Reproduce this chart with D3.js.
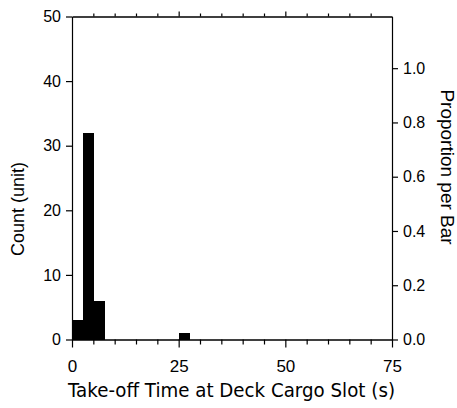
<!DOCTYPE html>
<html><head><meta charset="utf-8">
<script src="https://cdn.jsdelivr.net/npm/d3@7"></script>
<style>body{margin:0;background:#fff}svg{display:block}</style>
</head><body><svg width="457" height="408"></svg>
<script>
const binStart = [0, 2.5, 5, 25];
const binEnd = [2.5, 5, 7.5, 27.5];
const counts = [3, 32, 6, 1];
const xMajorTicks = [0, 25, 50, 75];
const xMinorTicks = [5, 10, 15, 20, 30, 35, 40, 45, 55, 60, 65, 70];
const countTicks = [0, 10, 20, 30, 40, 50];
const propTicks = [0, 0.2, 0.4, 0.6, 0.8, 1.0];

const svg = d3.select("svg");
const L = 72, R = 392, T = 16.5, B = 339.5;
const x = d3.scaleLinear().domain([0, 75]).range([L, R]);
const y = d3.scaleLinear().domain([0, 50]).range([B, T]);
const total = d3.sum(counts);
const yp = d3.scaleLinear().domain([0, 50 / total]).range([B, T]);

const font = "Liberation Sans, Arial, sans-serif";
const jfont = "DejaVu Sans, sans-serif";

// bars
svg.append("g").selectAll("rect").data(counts).join("rect")
  .attr("x", (d, i) => x(binStart[i]))
  .attr("width", (d, i) => x(binEnd[i]) - x(binStart[i]) + 0.6)
  .attr("y", d => y(d))
  .attr("height", d => B - y(d))
  .attr("fill", "#000")
  .attr("shape-rendering", "crispEdges");

function styleAxis(g) {
  g.selectAll("path,line").attr("stroke", "#000").attr("stroke-width", 1.2);
}

// bottom axis
svg.append("g").attr("transform", `translate(0,${B})`)
  .call(d3.axisBottom(x).tickValues(xMinorTicks).tickSize(5).tickSizeOuter(0).tickFormat(""))
  .call(styleAxis);
const bx = svg.append("g").attr("transform", `translate(0,${B})`)
  .call(d3.axisBottom(x).tickValues(xMajorTicks).tickSize(8).tickSizeOuter(0).tickPadding(12))
  .call(styleAxis);
bx.selectAll("text").attr("font-family", font).attr("font-size", 17).attr("fill", "#000");

// top axis
svg.append("g").attr("transform", `translate(0,${T})`)
  .call(d3.axisTop(x).tickValues(xMinorTicks).tickSize(3).tickSizeOuter(0).tickFormat(""))
  .call(styleAxis);
svg.append("g").attr("transform", `translate(0,${T})`)
  .call(d3.axisTop(x).tickValues([25, 50]).tickSize(5).tickSizeOuter(0).tickFormat(""))
  .call(styleAxis);

// left axis
const ly = svg.append("g").attr("transform", `translate(${L},0)`)
  .call(d3.axisLeft(y).tickValues(countTicks).tickSize(6).tickSizeOuter(0).tickPadding(5))
  .call(styleAxis);
ly.selectAll("text").attr("font-family", font).attr("font-size", 16).attr("fill", "#000");

// right axis
const ry = svg.append("g").attr("transform", `translate(${R},0)`)
  .call(d3.axisRight(yp).tickValues(propTicks).tickSize(6).tickSizeOuter(0).tickPadding(5).tickFormat(d3.format(".1f")))
  .call(styleAxis);
ry.selectAll("text").attr("font-family", font).attr("font-size", 16).attr("fill", "#000");

// titles
svg.append("text").attr("x", 231.5).attr("y", 397)
  .attr("text-anchor", "middle").attr("font-family", jfont).attr("font-size", 19)
  .attr("textLength", 327).attr("lengthAdjust", "spacingAndGlyphs")
  .text("Take-off Time at Deck Cargo Slot (s)");
svg.append("text").attr("transform", `translate(24,209) rotate(-90)`)
  .attr("text-anchor", "middle").attr("font-family", font).attr("font-size", 18)
  .text("Count (unit)");
svg.append("text").attr("transform", `translate(441,167) rotate(90)`)
  .attr("text-anchor", "middle").attr("font-family", font).attr("font-size", 19)
  .text("Proportion per Bar");
</script></body></html>
